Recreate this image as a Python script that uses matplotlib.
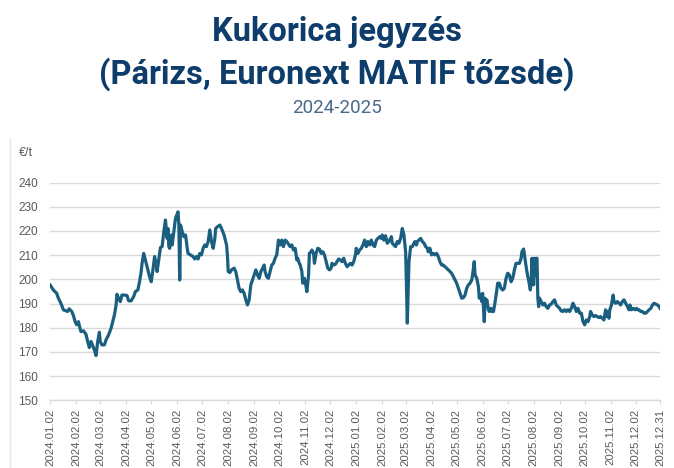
import matplotlib
matplotlib.use("Agg")
import matplotlib.pyplot as plt
from matplotlib.lines import Line2D
import pandas as pd

# ---- data -------------------------------------------------------------
start_date = "2024-01-02"
# calendar days after start_date
trade_day = [
    0, 4, 8, 10, 13, 16, 19, 21, 23, 26, 28, 30, 32, 34, 35, 37, 40, 43, 45, 47,
    49, 51, 53, 55, 57, 59, 60, 62, 65, 67, 70, 73, 75, 77, 79, 80, 82, 84, 86, 89,
    92, 94, 97, 100, 102, 105, 107, 109, 110, 112, 114, 117, 119, 121, 123, 125, 127, 128, 130, 132,
    134, 136, 138,
    140, 141, 142, 143, 145, 146, 148, 150, 153, 154, 155, 156, 158, 160, 162, 164, 165, 169, 171, 173,
    175, 177, 179, 181, 183, 185, 187, 189, 191, 193, 195, 197, 198, 200, 203, 205, 208, 211, 212, 213,
    215, 217, 220, 222, 224, 226, 228, 230, 232, 234, 236, 238, 240, 242, 244, 246, 248, 250, 252, 254,
    256, 257, 259, 261, 263, 265, 267, 269, 271, 273, 275, 277, 279, 281, 283,
    287, 289, 291, 293, 295, 296, 298, 299, 301, 302, 304, 306, 307, 309, 310, 312, 313, 315, 316, 318,
    320, 322, 324, 326, 328, 330, 332, 334, 336, 337, 339, 341, 343, 345, 347, 349, 351, 353, 355, 357,
    359, 361, 363, 365, 366, 368, 370, 372, 374, 376, 378, 380, 382, 384, 386, 388, 390, 392, 394, 396,
    397, 399, 401, 403, 405, 408, 409, 411, 413, 415, 417, 419, 421, 423, 425, 426, 427, 429, 431,
    433, 434, 436, 438, 439, 441, 443, 445, 447, 449, 451, 452, 454, 456, 458, 460, 462, 464, 466, 468,
    470, 472, 474, 476, 478, 480, 482, 484, 486, 488, 490, 492, 494, 496, 498, 500, 502, 504, 505, 507,
    508, 510, 512, 513, 515, 516, 517, 519, 520, 521, 522, 524, 525, 527, 528, 530, 532, 534, 535, 537,
    539, 541, 543, 545, 547, 549, 551, 553, 555, 557, 559, 561, 563, 564, 566,
    569, 571, 572, 574, 575, 576, 578, 579, 580, 581, 582, 583, 584, 585, 587, 589, 591, 593, 595, 597,
    599, 601, 603, 605, 607, 609, 611, 613, 615, 617, 619, 621, 623, 625, 627, 629, 631, 633, 635, 637,
    639, 641, 643, 645, 646, 648, 650, 652, 654, 656, 658, 660, 662, 664, 665, 666, 668, 669, 671, 673,
    674, 676, 678, 680, 682, 684, 686, 688, 690, 692, 693, 695, 697, 699, 701, 702, 704, 706, 708, 710,
    712, 714, 716, 718, 720, 722, 724, 726, 728, 729,
]
price = [
    197.7, 195.6, 194.2, 192.2, 190.1, 187.4, 187.0, 186.7, 187.8, 186.7, 185.0, 182.5, 181.2, 182.5, 180.9, 178.4, 178.7, 177.3, 174.3, 171.8,
    174.3, 172.6, 170.9, 168.5, 174.3, 178.1, 174.3, 172.9, 172.9, 175.0, 177.0, 179.8, 182.5, 185.3, 189.4, 193.8, 192.2, 190.8, 193.5, 193.5,
    193.3, 191.1, 191.1, 192.9, 194.9, 195.6, 199.0, 203.2, 206.6, 210.7, 208.0, 203.9, 201.1, 199.0, 203.9, 209.4, 205.9, 203.2, 208.0, 213.1,
    213.5, 219.7, 224.5,
    216.9, 221.0, 213.5, 212.8, 218.3, 214.2, 219.7, 225.2, 227.9, 222.4, 199.7, 222.4, 219.7, 217.6, 218.3, 212.8, 210.7, 209.8, 209.4, 208.4,
    209.4, 208.4, 210.7, 210.1, 212.8, 214.2, 213.5, 215.6, 220.4, 215.6, 212.8, 216.9, 221.0, 221.7, 222.4, 221.0, 218.3, 214.2, 210.1, 203.2,
    202.8, 203.9, 204.6, 203.2, 199.7, 196.3, 194.9, 195.6, 194.2, 191.5, 189.4, 191.5, 197.7, 199.7, 201.8, 203.9, 201.8, 200.4, 203.2, 204.6,
    205.9, 203.2, 201.1, 200.4, 203.2, 205.9, 206.6, 208.7, 210.1, 216.2, 214.2, 216.2, 213.5, 216.2, 215.6,
    213.5, 214.2, 212.1, 212.8, 208.0, 208.7, 206.6, 205.9, 203.2, 198.4, 200.4, 197.0, 194.9, 201.8, 210.7, 211.4, 212.1, 210.7, 206.6, 210.7,
    212.8, 212.5, 210.7, 211.4, 210.1, 207.3, 204.6, 203.9, 204.6, 206.6, 205.9, 206.2, 207.3, 208.4, 208.0, 207.3, 208.7, 206.6, 205.2, 205.9,
    206.6, 205.9, 207.3, 210.1, 212.8, 210.7, 212.1, 212.8, 214.2, 216.2, 213.5, 215.6, 214.2, 216.2, 214.2, 213.5, 216.2, 216.9, 217.6, 216.9,
    218.3, 216.2, 218.0, 214.9, 215.6, 217.6, 214.9, 214.2, 213.5, 215.6, 214.9, 216.9, 221.0, 218.3, 211.4, 197.7, 181.9, 207.3, 213.5,
    213.5, 214.2, 215.6, 214.2, 215.6, 216.2, 216.9, 215.6, 214.9, 213.5, 212.8, 211.4, 212.8, 210.1, 210.7, 210.1, 210.7, 209.4, 207.3, 205.9,
    205.9, 205.2, 204.6, 203.9, 203.2, 202.5, 201.1, 199.7, 198.4, 196.3, 194.2, 192.2, 192.4, 193.5, 196.3, 197.7, 198.4, 199.7, 201.8, 207.3,
    201.8, 200.4, 197.0, 192.2, 193.5, 190.8, 194.2, 182.5, 192.2, 189.4, 191.5, 187.4, 186.7, 188.0, 186.7, 186.7, 190.8, 195.6, 198.4, 198.4,
    196.3, 195.6, 196.3, 200.4, 202.5, 201.8, 199.0, 200.4, 203.9, 206.6, 206.6, 206.6, 208.7, 211.4, 212.5,
    205.2, 201.1, 199.7, 195.6, 198.4, 208.7, 197.7, 208.7, 201.8, 208.7, 208.7, 192.2, 188.7, 192.2, 190.8, 189.4, 190.1, 188.7, 188.0, 189.4,
    189.7, 190.8, 191.5, 189.4, 188.7, 188.0, 186.9, 186.7, 187.4, 186.7, 187.4, 186.7, 188.0, 190.1, 188.7, 186.7, 188.0, 186.0, 186.0, 182.5,
    181.2, 183.2, 182.5, 184.6, 186.7, 185.3, 184.6, 185.0, 184.6, 184.2, 184.6, 183.9, 183.2, 187.4, 184.6, 186.7, 183.9, 187.4, 189.4, 193.5,
    190.8, 190.1, 190.8, 190.1, 189.4, 190.8, 191.5, 190.1, 188.7, 187.4, 189.4, 187.4, 188.0, 187.4, 188.0, 187.4, 187.4, 186.7, 186.7, 186.0,
    186.0, 186.7, 187.4, 188.0, 189.4, 190.1, 189.7, 189.4, 188.7, 188.0,
]
tick_dates = [
    "2024-01-02", "2024-02-02", "2024-03-02", "2024-04-02", "2024-05-02", "2024-06-02",
    "2024-07-02", "2024-08-02", "2024-09-02", "2024-10-02", "2024-11-02", "2024-12-02",
    "2025-01-02", "2025-02-02", "2025-03-02", "2025-04-02", "2025-05-02", "2025-06-02",
    "2025-07-02", "2025-08-02", "2025-09-02", "2025-10-02", "2025-11-02", "2025-12-02",
    "2025-12-31",
]
y_ticks = [150, 160, 170, 180, 190, 200, 210, 220, 230, 240]
title_line1 = "Kukorica jegyzés"
title_line2 = "(Párizs, Euronext MATIF tőzsde)"
subtitle = "2024-2025"
unit_label = "€/t"

# ---- figure -----------------------------------------------------------
dates = pd.to_datetime(start_date) + pd.to_timedelta(trade_day, unit="D")
ticks = pd.to_datetime(tick_dates)

W, H = 674, 468
fig = plt.figure(figsize=(W / 100, H / 100), dpi=100)
fig.patch.set_facecolor("white")

ax = fig.add_axes([50 / W, 1 - 400.3 / H, 610 / W, (400.3 - 182.5) / H])
ax.plot(dates, price, color="#1a5f80", lw=2.3, solid_joinstyle="round")

ax.set_xlim(pd.to_datetime(start_date), pd.to_datetime(tick_dates[-1]))
ax.set_ylim(y_ticks[0], y_ticks[-1])
ax.set_yticks(y_ticks)
ax.set_xticks(ticks)
ax.set_xticklabels([d.strftime("%Y.%m.%d") for d in ticks], rotation=90,
                   fontsize=8.2, color="#595959", family="Liberation Sans")
ax.set_yticklabels([str(v) for v in y_ticks], fontsize=8.5, color="#595959",
                   family="Liberation Sans")
ax.tick_params(axis="y", length=0, pad=8.5)
ax.tick_params(axis="x", length=3, width=0.8, color="#d9d9d9", pad=3)

for s in ["top", "right", "left"]:
    ax.spines[s].set_visible(False)
ax.spines["bottom"].set_color("#d9d9d9")
ax.spines["bottom"].set_linewidth(1.0)
ax.grid(axis="y", color="#d9d9d9", lw=1.0)
ax.set_axisbelow(True)

fig.text(19 / W, 1 - 152.5 / H, unit_label, fontsize=9, color="#595959",
         family="Liberation Sans", ha="left", va="center")

fig.add_artist(Line2D([10 / W, 10 / W], [1 - 138 / H, 0], color="#e6e6e6",
                      lw=1.0, transform=fig.transFigure))

fig.text(0.5, 1 - 32 / H, title_line1, ha="center", va="center", fontsize=23.5,
         fontweight="bold", color="#0e3d6b", family="Roboto")
fig.text(0.5, 1 - 74 / H, title_line2, ha="center", va="center", fontsize=23.5,
         fontweight="bold", color="#0e3d6b", family="Roboto")
fig.text(0.5, 1 - 108 / H, subtitle, ha="center", va="center", fontsize=13.5,
         fontweight="normal", color="#47698a", family="Roboto")

fig.savefig("out.png", dpi=100, facecolor="white")
